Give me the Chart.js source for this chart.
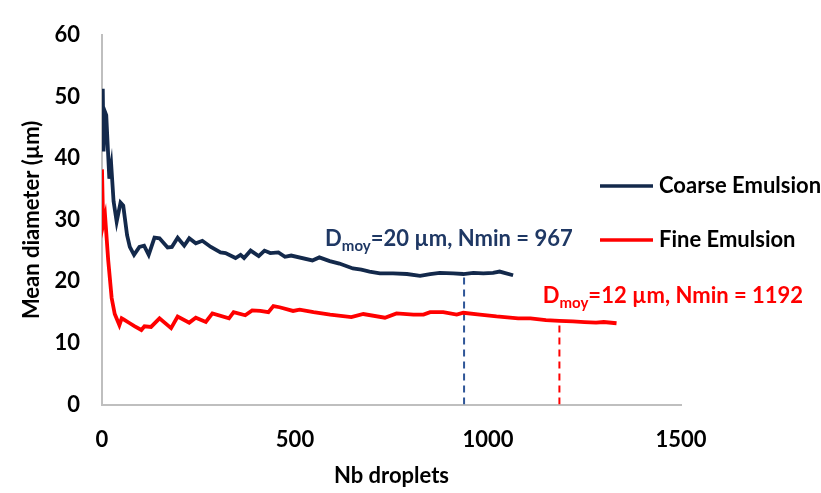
<!DOCTYPE html>
<html>
<head>
<meta charset="utf-8">
<script src="https://cdn.jsdelivr.net/npm/chart.js@4.4.1/dist/chart.umd.min.js"></script>
<style>
  html, body { margin: 0; padding: 0; background: #fff; }
  #wrap { width: 821px; height: 493px; }
</style>
</head>
<body>
<div id="wrap"><canvas id="droplets" width="821" height="493"></canvas></div>
<script>
// Coarse emulsion: mean diameter vs number of droplets
const coarseX = [0, 2, 4, 8, 11, 14, 19, 24, 30, 38, 48, 55, 65, 72, 83, 97, 109, 121, 136, 149, 170, 181, 196, 213, 226, 243, 260, 282, 307, 320, 346, 359, 368, 385, 406, 421, 436, 457, 474, 490, 545, 563, 590, 615, 650, 672, 693, 720, 754, 790, 824, 850, 875, 910, 936, 962, 988, 1013, 1030, 1065];
const coarseY = [45, 51.3, 41.1, 47.5, 47, 43.1, 36.7, 38.8, 33, 29.7, 32.8, 32.3, 27.5, 25.6, 24.3, 25.6, 25.8, 24.3, 27.1, 27.0, 25.5, 25.6, 27.1, 25.8, 27.0, 26.2, 26.6, 25.6, 24.7, 24.6, 23.8, 24.3, 23.8, 25.0, 24.1, 25.0, 24.6, 24.7, 24.0, 24.2, 23.4, 23.9, 23.3, 22.9, 22.1, 21.9, 21.6, 21.3, 21.3, 21.2, 20.9, 21.2, 21.4, 21.3, 21.2, 21.4, 21.3, 21.4, 21.6, 21.0];

// Fine emulsion
const fineX = [0, 3, 8, 16, 25, 33, 45, 51, 57, 72, 85, 102, 110, 127, 149, 179, 196, 226, 243, 269, 286, 329, 341, 371, 389, 410, 431, 444, 460, 495, 512, 548, 591, 646, 677, 733, 763, 807, 833, 850, 884, 919, 936, 979, 1022, 1078, 1110, 1150, 1185, 1220, 1250, 1280, 1300, 1333];
const fineY = [38.2, 29.2, 30.6, 23.5, 17.3, 14.7, 12.9, 14.0, 13.8, 13.2, 12.7, 12.1, 12.7, 12.6, 14.0, 12.4, 14.3, 13.3, 14.1, 13.4, 14.8, 14.0, 15.0, 14.5, 15.3, 15.2, 15.0, 16.0, 15.8, 15.2, 15.4, 15.0, 14.6, 14.2, 14.7, 14.1, 14.8, 14.6, 14.6, 15.0, 15.0, 14.6, 14.9, 14.6, 14.3, 14.0, 14.0, 13.7, 13.6, 13.5, 13.4, 13.3, 13.4, 13.2];

// where the dashed markers are drawn (x, top y) and what the labels say
const cutX = [938, 1185];
const cutY = [21.2, 13.3];
const dMoy = [20, 12];
const nMin = [967, 1192];
const labelAt = [[578, 25.8], [1142, 16.5]];   // left/baseline of the label, in data units

const seriesNames = ['Coarse Emulsion', 'Fine Emulsion'];
const navy = '#13294b';
const red = '#ff0000';
const FONT = 'Lato, "Open Sans", sans-serif';

const pts = (xs, ys) => xs.map((x, i) => ({ x: x, y: ys[i] }));

// text labels + legend, drawn after the chart
const extras = {
  id: 'extras',
  afterDraw(chart) {
    const ctx = chart.ctx;
    const xs = chart.scales.x, ys = chart.scales.y;
    const colors = ['#1f3864', red];
    ctx.save();
    ctx.textBaseline = 'alphabetic';
    labelAt.forEach((p, i) => {
      let x = xs.getPixelForValue(p[0]);
      const y = ys.getPixelForValue(p[1]);
      ctx.fillStyle = colors[i];
      ctx.font = 'bold 22px ' + FONT;
      ctx.fillText('D', x, y);
      x += ctx.measureText('D').width;
      ctx.font = 'bold 15px ' + FONT;
      ctx.fillText('moy', x, y + 5);
      x += ctx.measureText('moy').width;
      ctx.font = 'bold 22px ' + FONT;
      ctx.fillText('=' + dMoy[i] + ' µm, Nmin = ' + nMin[i], x, y);
    });

    // legend on the right
    const lx = chart.chartArea.right - 81;
    [[186, navy], [240, red]].forEach((row, i) => {
      ctx.strokeStyle = row[1];
      ctx.lineWidth = 3.5;
      ctx.beginPath();
      ctx.moveTo(lx, row[0]);
      ctx.lineTo(lx + 53, row[0]);
      ctx.stroke();
      ctx.fillStyle = '#000';
      ctx.font = 'bold 22px ' + FONT;
      ctx.textBaseline = 'middle';
      ctx.fillText(seriesNames[i], lx + 59, row[0]);
    });
    ctx.restore();
  }
};

const tickFont = { family: FONT, size: 22, weight: 'bold' };

const ctx = document.getElementById('droplets').getContext('2d');
new Chart(ctx, {
  type: 'line',
  data: {
    datasets: [
      { label: seriesNames[0], data: pts(coarseX, coarseY), borderColor: navy, borderWidth: 3.8, pointRadius: 0, tension: 0 },
      { label: seriesNames[1], data: pts(fineX, fineY), borderColor: red, borderWidth: 3.8, pointRadius: 0, tension: 0 },
      { label: 'cut coarse', data: [{ x: cutX[0], y: 0 }, { x: cutX[0], y: cutY[0] }], borderColor: '#2e5597', borderWidth: 2, borderDash: [7, 5], pointRadius: 0 },
      { label: 'cut fine', data: [{ x: cutX[1], y: 0 }, { x: cutX[1], y: cutY[1] }], borderColor: red, borderWidth: 2, borderDash: [7, 5], pointRadius: 0 }
    ]
  },
  options: {
    responsive: false,
    animation: false,
    layout: { padding: { left: 0, right: 140, top: 17, bottom: 0 } },
    plugins: { legend: { display: false }, tooltip: { enabled: false } },
    scales: {
      x: {
        type: 'linear', min: 0, max: 1500,
        grid: { display: false, drawTicks: false },
        border: { color: '#bfbfbf', width: 2 },
        ticks: { stepSize: 500, padding: 22, color: '#000', font: tickFont, callback: v => String(v) },
        title: { display: true, text: 'Nb droplets', color: '#000', padding: { top: 0, bottom: 4 }, font: tickFont },
        afterFit(s) { s.height = 88.5; }
      },
      y: {
        min: 0, max: 60,
        grid: { display: false, drawTicks: false },
        border: { color: '#bfbfbf', width: 2 },
        ticks: { stepSize: 10, padding: 22, color: '#000', font: tickFont, callback: v => String(v) },
        title: { display: true, text: 'Mean diameter (µm)', color: '#000', padding: { top: 19, bottom: 0 }, font: tickFont },
        afterFit(s) { s.width = 102; }
      }
    }
  },
  plugins: [extras]
});
</script>
</body>
</html>
